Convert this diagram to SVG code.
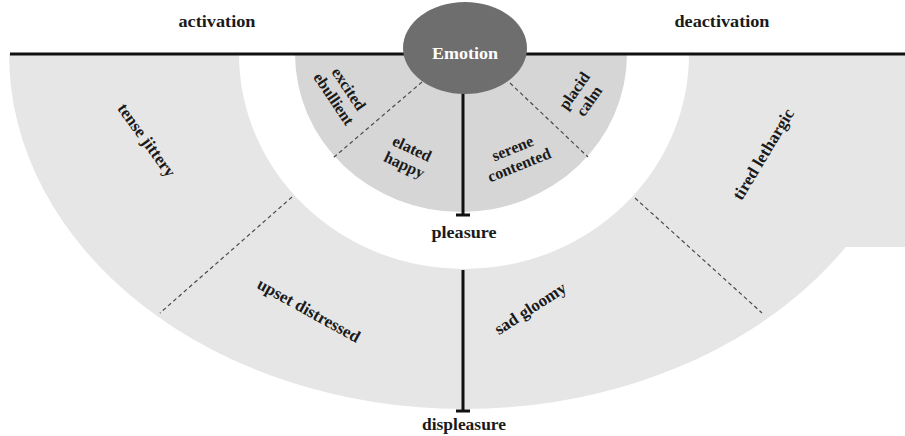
<svg xmlns="http://www.w3.org/2000/svg" width="905" height="436" viewBox="0 0 905 436">
<style>
.t{font-family:"Liberation Serif","Times New Roman",serif;font-weight:bold;fill:#1a1a1a;text-anchor:middle}
.band{font-size:17px}
.in{font-size:16px}
.dash{stroke:#4a4a4a;stroke-width:1.2;stroke-dasharray:4 3;fill:none}
.axis{stroke:#111;stroke-width:3;fill:none}
</style>
<rect width="905" height="436" fill="#fff"/>
<g id="outer-band">
<path d="M9,54 A455,355 0 0 0 919,54 L689,54 A225,215 0 0 1 239,54 Z" fill="#e6e6e6"/>
<rect x="800" y="54" width="105" height="193" fill="#e6e6e6"/>
</g>
<g id="inner-band">
<path d="M295,54 A166,158 0 0 0 627,54 Z" fill="#d6d6d6"/>
</g>
<g id="connectors">
<line class="axis" x1="10" y1="54" x2="410" y2="54"/>
<line class="axis" x1="520" y1="54" x2="905" y2="54"/>
<line class="axis" x1="463" y1="92" x2="463" y2="215"/>
<line class="axis" x1="456" y1="215" x2="470" y2="215"/>
<line class="axis" x1="463" y1="270" x2="463" y2="411"/>
<line class="axis" x1="456" y1="411" x2="470" y2="411"/>
<line class="dash" x1="422" y1="82" x2="333" y2="158"/>
<line class="dash" x1="510" y1="83" x2="588" y2="157"/>
<line class="dash" x1="292" y1="197" x2="160" y2="313"/>
<line class="dash" x1="635" y1="198" x2="762" y2="313"/>
</g>
<g id="emotion">
<ellipse cx="465" cy="48" rx="62" ry="46" fill="#6e6e6e"/>
<text class="t" x="465" y="59" font-size="17" fill="#ffffff" style="fill:#fff" textLength="66" lengthAdjust="spacingAndGlyphs">Emotion</text>
</g>
<g id="activation"><text class="t" x="217" y="27" font-size="17" textLength="77" lengthAdjust="spacingAndGlyphs">activation</text></g>
<g id="deactivation"><text class="t" x="722" y="27" font-size="17" textLength="95" lengthAdjust="spacingAndGlyphs">deactivation</text></g>
<g id="pleasure"><text class="t" x="464" y="238" font-size="17" textLength="65" lengthAdjust="spacingAndGlyphs">pleasure</text></g>
<g id="displeasure"><text class="t" x="464" y="430" font-size="17" textLength="84" lengthAdjust="spacingAndGlyphs">displeasure</text></g>
<g id="tense-jittery"><text class="t band" transform="translate(147,140) rotate(54)" y="6">tense jittery</text></g>
<g id="tired-lethargic"><text class="t band" transform="translate(763,154) rotate(-59)" y="6">tired lethargic</text></g>
<g id="upset-distressed"><text class="t band" transform="translate(309,310) rotate(29)" y="6">upset distressed</text></g>
<g id="sad-gloomy"><text class="t band" transform="translate(530,308) rotate(-33)" y="6">sad gloomy</text></g>
<g id="excited-ebullient"><text class="t in" transform="translate(341,94) rotate(56)"><tspan x="0" y="-4">excited</tspan><tspan x="0" y="14">ebullient</tspan></text></g>
<g id="elated-happy"><text class="t in" transform="translate(408,157) rotate(25)"><tspan x="0" y="-4">elated</tspan><tspan x="0" y="14">happy</tspan></text></g>
<g id="serene-contented"><text class="t in" transform="translate(516,157) rotate(-22)"><tspan x="0" y="-4">serene</tspan><tspan x="0" y="14">contented</tspan></text></g>
<g id="placid-calm"><text class="t in" transform="translate(582,96) rotate(-55)"><tspan x="0" y="-4">placid</tspan><tspan x="0" y="14">calm</tspan></text></g>
</svg>
